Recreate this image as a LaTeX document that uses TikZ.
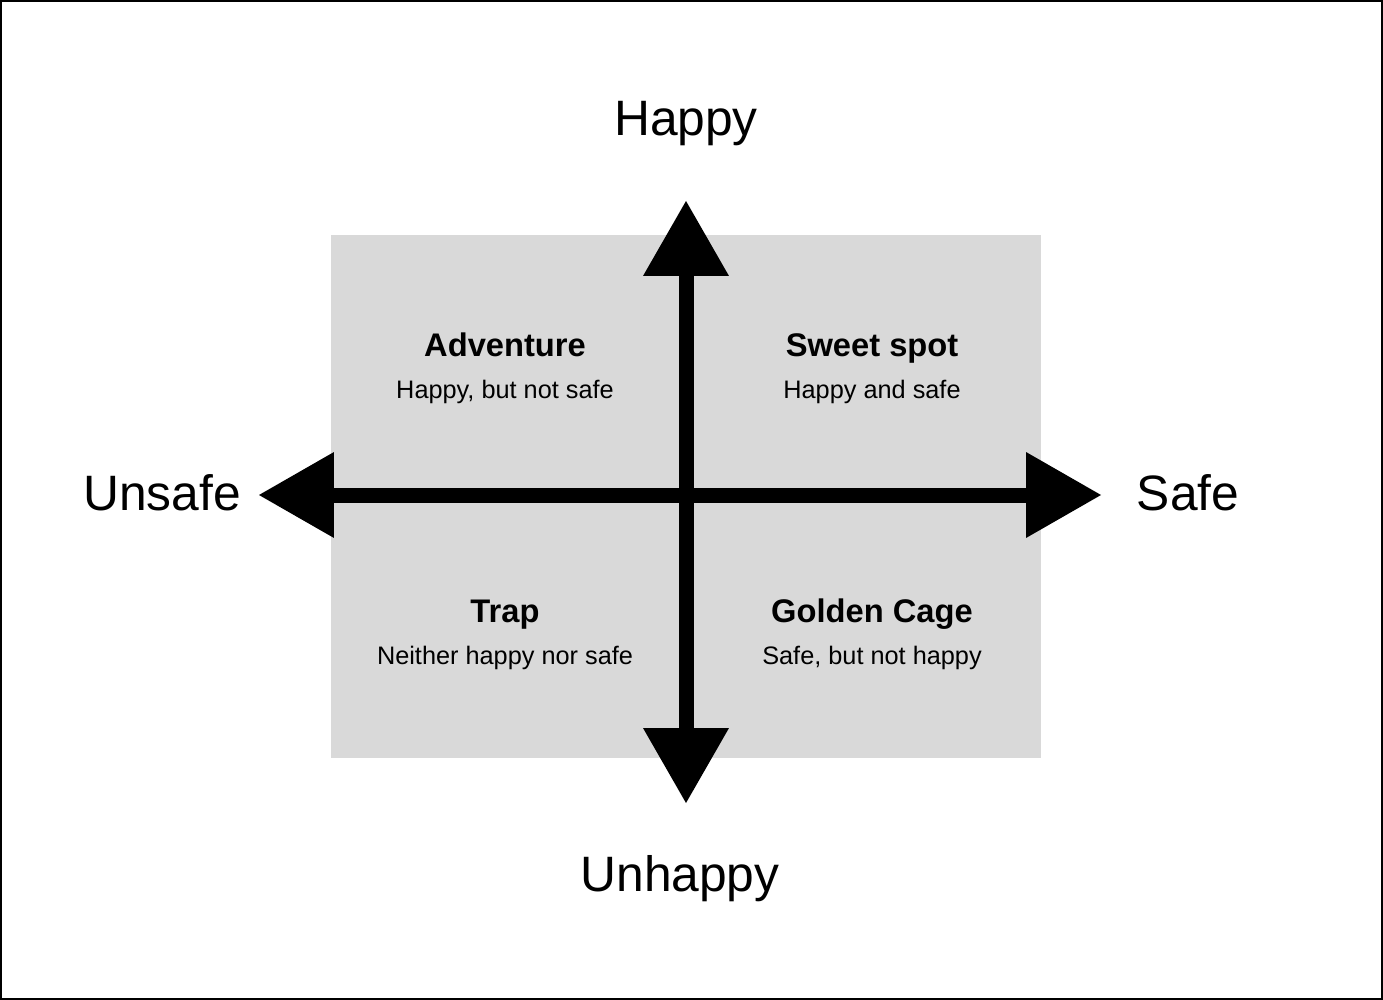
\documentclass[tikz,border=0pt]{standalone}
\usepackage{fontspec}
\setmainfont{Liberation Sans}
\usetikzlibrary{arrows.meta}
\definecolor{quadgray}{HTML}{D9D9D9}
\begin{document}
\begin{tikzpicture}[x=0.02cm, y=-0.02cm]
\useasboundingbox (0,0) rectangle (1383,1000);
\draw[line width=0.04cm] (1,1) rectangle (1382,999);
\fill[quadgray] (331,235) rectangle (1041,758);
% axes
\coordinate (left) at (259,495);
\coordinate (right) at (1101,495);
\coordinate (top) at (686,201);
\coordinate (bottom) at (686,803);
\begin{scope}[every path/.style={line width=0.3cm,
    {Triangle[length=1.5cm,width=1.72cm,line width=0pt]}-{Triangle[length=1.5cm,width=1.72cm,line width=0pt]}}]
    \draw (left) -- (right);
    \draw (bottom) -- (top);
\end{scope}
% axis labels
\begin{scope}[every node/.style={anchor=base, inner sep=0pt, font=\fontsize{28.3}{34}\selectfont}]
    \node (happy) at (686,136) {Happy};
    \node (unhappy) at (680,891) {Unhappy};
    \node (unsafe) at (162,510) {Unsafe};
    \node (safe) at (1188,510) {Safe};
\end{scope}
% quadrants
\begin{scope}[every node/.style={anchor=base, inner sep=0pt}]
    \node[font=\fontsize{18.6}{22}\selectfont\bfseries] (adventure) at (505,357) {Adventure};
    \node[font=\fontsize{14.4}{17}\selectfont] (adventuresub) at (505,398) {Happy, but not safe};
    \node[font=\fontsize{18.6}{22}\selectfont\bfseries] (sweetspot) at (872,357) {Sweet spot};
    \node[font=\fontsize{14.4}{17}\selectfont] (sweetspotsub) at (872,398) {Happy and safe};
    \node[font=\fontsize{18.6}{22}\selectfont\bfseries] (trap) at (505,622) {Trap};
    \node[font=\fontsize{14.4}{17}\selectfont] (trapsub) at (505,664) {Neither happy nor safe};
    \node[font=\fontsize{18.6}{22}\selectfont\bfseries] (goldencage) at (872,622) {Golden Cage};
    \node[font=\fontsize{14.4}{17}\selectfont] (goldencagesub) at (872,664) {Safe, but not happy};
\end{scope}
\end{tikzpicture}
\end{document}
